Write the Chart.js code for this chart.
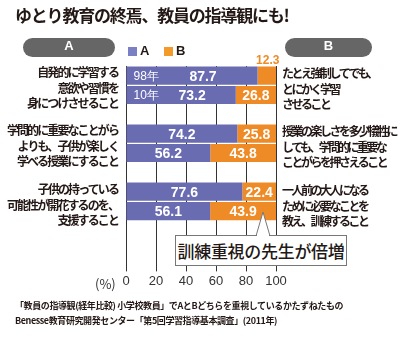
<!DOCTYPE html>
<html>
<head>
<meta charset="utf-8">
<script src="https://cdn.jsdelivr.net/npm/chart.js@4"></script>
<style>
  body { margin: 0; background: #fff; }
  #wrap { position: relative; width: 400px; height: 338px; overflow: hidden; font-family: "Noto Sans CJK JP", sans-serif; color: #231815; }
  #wrap canvas { position: absolute; left: 0; top: 0; }
  .abs { position: absolute; white-space: nowrap; }
  .title { left: 15px; top: 2px; font-size: 17px; font-weight: bold; letter-spacing: -1.2px; }
  .pill { top: 38px; height: 19px; line-height: 19px; background: #666; color: #fff; border-radius: 10px; text-align: center; font: bold 13px "Liberation Sans", sans-serif; }
  .leg { top: 47px; width: 9px; height: 9px; }
  .legtxt { top: 43px; font: bold 13px "Liberation Sans Narrow", "Liberation Sans", sans-serif; }
  .lab { font-size: 12px; font-weight: bold; line-height: 15.5px; letter-spacing: -1.9px; }
  .left { right: 282px; text-align: right; }
  .right { left: 282px; text-align: left; letter-spacing: -2.5px; }
  .note { left: 15px; font-size: 9px; font-weight: bold; letter-spacing: -0.4px; }
  .callout { left: 175px; top: 235px; width: 170px; height: 29px; border: 1px solid #777; background: #fff; text-align: center; line-height: 29px; font-size: 17px; font-weight: 500; letter-spacing: -0.3px; color: #231815; }
</style>
</head>
<body>
<div id="wrap">
  <canvas id="chart" width="400" height="338"></canvas>
  <div class="abs title">ゆとり教育の終焉、教員の指導観にも!</div>
  <div class="abs pill" style="left:23px;width:92px;">A</div>
  <div class="abs pill" style="left:285px;width:87px;">B</div>
  <div class="abs leg" style="left:128px;background:#7b80c4;"></div>
  <div class="abs legtxt" style="left:140px;">A</div>
  <div class="abs leg" style="left:164px;background:#f29a2a;"></div>
  <div class="abs legtxt" style="left:176px;">B</div>
  <div id="labels"></div>
  <div class="abs" style="left:95px;top:274px;font-size:13px;color:#333;">(%)</div>
  <svg class="abs" style="left:0;top:0;" width="400" height="338">
    <polygon points="256,236 263,212 270,236" fill="#fff" stroke="#777" stroke-width="1"/>
  </svg>
  <div class="abs callout">訓練重視の先生が倍増</div>
  <svg class="abs" style="left:0;top:0;" width="400" height="338">
    <rect x="257" y="234" width="12" height="3" fill="#fff"/>
  </svg>
  <div class="abs note" style="top:299px;">「教員の指導観(経年比較) 小学校教員」でAとBどちらを重視しているかたずねたもの</div>
  <div class="abs note" style="top:314px;">Benesse教育研究開発センター「第5回学習指導基本調査」(2011年)</div>
</div>
<script>
// survey years (only the first item carries the year tags)
const years = ["98年", "10年"];

// left (A) and right (B) statements, one entry per item
const itemsA = [
  ["自発的に学習する", "意欲や習慣を", "身につけさせること"],
  ["学問的に重要なことがら", "よりも、子供が楽しく", "学べる授業にすること"],
  ["子供の持っている", "可能性が開花するのを、", "支援すること"]
];
const itemsB = [
  ["たとえ強制してでも、", "とにかく学習", "させること"],
  ["授業の楽しさを多少犠牲に", "しても、学問的に重要な", "ことがらを押さえること"],
  ["一人前の大人になる", "ために必要なことを", "教え、訓練すること"]
];

// percentages
const a98 = [87.7, 74.2, 77.6];
const a10 = [73.2, 56.2, 56.1];
const b98 = [12.3, 25.8, 22.4];
const b10 = [26.8, 43.8, 43.9];

const xTicks = [0, 20, 40, 60, 80, 100];

const colorA = "#6a6cb2";
const colorB = "#ef8b26";

// rows: 98, 10, blank for each item, plus one blank row at the bottom
const rows = [], dataA = [], dataB = [], rowYear = [];
itemsA.forEach((item, i) => {
  rows.push("r" + i + "a", "r" + i + "b", "g" + i);
  dataA.push(a98[i], a10[i], null);
  dataB.push(b98[i], b10[i], null);
  rowYear.push(i === 0 ? years[0] : null, i === 0 ? years[1] : null, null);
});
rows.push("end");
dataA.push(null);
dataB.push(null);
rowYear.push(null);

// side labels
const labelBox = document.getElementById("labels");
const groupTops = [64, 122, 181];
itemsA.forEach((lines, i) => {
  const d = document.createElement("div");
  d.className = "abs lab left";
  d.style.top = groupTops[i] + "px";
  d.innerHTML = lines.join("<br>");
  labelBox.appendChild(d);
  const e = document.createElement("div");
  e.className = "abs lab right";
  e.style.top = (groupTops[i] + 1) + "px";
  e.innerHTML = itemsB[i].join("<br>");
  labelBox.appendChild(e);
});

const valueLabels = {
  id: "valueLabels",
  afterDatasetsDraw(chart) {
    const ctx = chart.ctx;
    ctx.save();
    ctx.textBaseline = "middle";
    ctx.textAlign = "center";
    chart.data.datasets.forEach((ds, di) => {
      const meta = chart.getDatasetMeta(di);
      meta.data.forEach((bar, j) => {
        const v = ds.data[j];
        if (v == null) return;
        const left = Math.min(bar.x, bar.base);
        const right = Math.max(bar.x, bar.base);
        const txt = v.toFixed(1);
        ctx.font = "bold 14px 'Liberation Sans Narrow', 'Liberation Sans', sans-serif";
        if (right - left < 25) {
          ctx.fillStyle = colorB;
          ctx.font = "bold 12px 'Liberation Sans Narrow', 'Liberation Sans', sans-serif";
          ctx.fillText(txt, (left + right) / 2 + 1, bar.y - 15);
          return;
        }
        ctx.fillStyle = "#fff";
        let cx = (left + right) / 2;
        if (di === 0 && rowYear[j]) {
          cx = (left + 22 + right) / 2;
          ctx.save();
          ctx.textAlign = "left";
          ctx.font = "12px 'Liberation Sans', sans-serif";
          ctx.fillText(rowYear[j], left + 7, bar.y + 1);
          ctx.restore();
        }
        ctx.fillText(txt, cx, bar.y + 1);
      });
    });
    ctx.restore();
  }
};

new Chart(document.getElementById("chart").getContext("2d"), {
  type: "bar",
  data: {
    labels: rows,
    datasets: [
      { label: "A", data: dataA, backgroundColor: colorA },
      { label: "B", data: dataB, backgroundColor: colorB }
    ]
  },
  options: {
    indexAxis: "y",
    responsive: false,
    animation: false,
    layout: { padding: { left: 126, right: 124, top: 66, bottom: 47 } },
    datasets: { bar: { barPercentage: 0.94, categoryPercentage: 1.0 } },
    scales: {
      x: {
        stacked: true,
        min: 0,
        max: 100,
        afterBuildTicks: scale => { scale.ticks = xTicks.map(v => ({ value: v })); },
        grid: { color: "#333", lineWidth: 1, tickLength: 12, drawOnChartArea: true },
        border: { display: false },
        ticks: { color: "#333", padding: 2, font: { size: 13, family: "'Liberation Sans', sans-serif" } }
      },
      y: {
        stacked: true,
        display: false
      }
    },
    plugins: {
      legend: { display: false },
      tooltip: { enabled: false }
    }
  },
  plugins: [valueLabels]
});
</script>
</body>
</html>
